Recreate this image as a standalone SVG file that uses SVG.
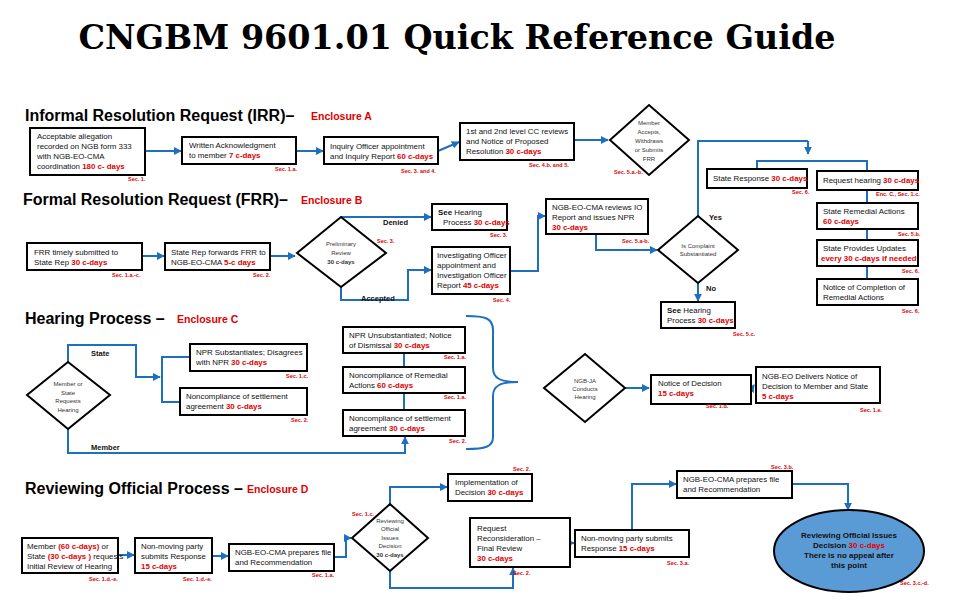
<svg xmlns="http://www.w3.org/2000/svg" width="960" height="610" viewBox="0 0 960 610">
<defs>
<marker id="ar" viewBox="0 0 10 10" refX="9" refY="5" markerWidth="4" markerHeight="4" orient="auto"><path d="M0,0 L10,5 L0,10 z" fill="#1f6fbf"/></marker>
<style>
.b{fill:#fff;stroke:#000;stroke-width:2}
.d{fill:#fff;stroke:#000;stroke-width:2}
.t{font-family:"Liberation Sans",Arial,sans-serif;font-size:7.9px;fill:#111}
.s{font-family:"Liberation Sans",Arial,sans-serif;font-size:5.5px;font-weight:bold;fill:#e00000}
.r{fill:#e00000;font-weight:bold}
.h{font-family:"Liberation Sans",Arial,sans-serif;font-size:16px;font-weight:bold;fill:#000}
.e{font-family:"Liberation Sans",Arial,sans-serif;font-size:10.5px;font-weight:bold;fill:#e00000}
.l{font-family:"Liberation Sans",Arial,sans-serif;font-size:7.5px;font-weight:bold;fill:#111}
.dt{font-family:"Liberation Sans",Arial,sans-serif;font-size:6px;fill:#333;text-anchor:middle}
.c{fill:none;stroke:#1f6fbf;stroke-width:2}
.ca{fill:none;stroke:#1f6fbf;stroke-width:2;marker-end:url(#ar)}
</style>
</defs>
<rect width="960" height="610" fill="#fff"/>
<text x="457" y="49" text-anchor="middle" font-family="DejaVu Serif,serif" font-weight="bold" font-size="33" textLength="757" lengthAdjust="spacingAndGlyphs">CNGBM 9601.01 Quick Reference Guide</text>

<text class="h" x="25" y="121">Informal Resolution Request (IRR)–</text>
<text class="e" x="311" y="120">Enclosure A</text>
<text class="h" x="23" y="205">Formal Resolution Request (FRR)–</text>
<text class="e" x="301" y="204">Enclosure B</text>
<text class="h" x="25" y="324">Hearing Process –</text>
<text class="e" x="177" y="323">Enclosure C</text>
<text class="h" x="25" y="494">Reviewing Official Process –</text>
<text class="e" x="247" y="493">Enclosure D</text>

<g id="connectors">
<path class="ca" d="M145,151 H181"/>
<path class="ca" d="M296,151 H323"/>
<path class="ca" d="M438,151 L459,142"/>
<path class="ca" d="M574,140 H608"/>
<path class="c" d="M698,217 V141 H808"/>
<path class="ca" d="M808,141 V154"/>
<path class="c" d="M757,170 V161 H867 V171"/>
<path class="c" d="M867,189 V203 M867,229 V240 M867,266 V279"/>
<path class="ca" d="M142,256 H164"/>
<path class="ca" d="M270,256 H295"/>
<path class="ca" d="M341,217 H431"/>
<path class="ca" d="M341,287 V300 H408 V270 H431"/>
<path class="ca" d="M510,271 H538 V216 H545"/>
<path class="ca" d="M596,234 V250 H657"/>
<path class="ca" d="M698,283 V301"/>
<path class="ca" d="M68,362 V345 H136 V377 H160"/>
<path class="c" d="M190,357 H162 V402 H180"/>
<path class="ca" d="M68,429 V453 H405 V437"/>
<path class="c" d="M404,353 V367 M404,393 V410"/>
<path class="c" d="M466,316 C485,316 493,318 493,330 V368 C493,378 500,382 518,382 C500,382 493,386 493,396 V437 C493,447 485,449 466,449"/>
<path class="ca" d="M625,388 H649"/>
<path class="ca" d="M751,390 L754,385"/>
<path class="ca" d="M118,555 H134"/>
<path class="ca" d="M212,556 H228"/>
<path class="ca" d="M334,557 H346 V538 H351"/>
<path class="ca" d="M390,504 V487 H447"/>
<path class="ca" d="M390,571 V588 H513 V568"/>
<path class="ca" d="M570,543 H574"/>
<path class="ca" d="M632,530 V484 H676"/>
<path class="ca" d="M792,484 H848 V510"/>
</g>

<g id="a1"><rect class="b" x="30" y="128" width="115" height="47"/>
<text class="t" x="37" y="139">Acceptable allegation</text><text class="t" x="37" y="149">recorded on NGB form 333</text><text class="t" x="37" y="159">with NGB-EO-CMA</text><text class="t" x="37" y="169">coordination <tspan class="r">180 c- days</tspan></text>
<text class="s" x="128" y="181">Sec. 1.</text></g>
<g id="a2"><rect class="b" x="182" y="137" width="114" height="27"/>
<text class="t" x="189" y="148">Written Acknowledgment</text><text class="t" x="189" y="158">to member <tspan class="r">7 c-days</tspan></text>
<text class="s" x="275" y="171">Sec. 1.a.</text></g>
<g id="a3"><rect class="b" x="324" y="137" width="114" height="27"/>
<text class="t" x="330" y="149">Inquiry Officer appointment</text><text class="t" x="330" y="159">and Inquiry Report <tspan class="r">60 c-days</tspan></text>
<text class="s" x="401" y="173">Sec. 3. and 4.</text></g>
<g id="a4"><rect class="b" x="460" y="123" width="114" height="37"/>
<text class="t" x="466" y="134">1st and 2nd level CC reviews</text><text class="t" x="466" y="144">and Notice of Proposed</text><text class="t" x="466" y="154">Resolution <tspan class="r">30 c-days</tspan></text>
<text class="s" x="529" y="167">Sec. 4.b. and 5.</text></g>
<g id="a5"><polygon class="d" points="610,140 649,105 689,140 649,175"/>
<text class="dt" x="649" y="125">Member</text><text class="dt" x="649" y="134">Accepts,</text><text class="dt" x="649" y="143">Withdraws</text><text class="dt" x="649" y="152">or Submits</text><text class="dt" x="649" y="161">FRR</text>
<text class="s" x="614" y="174">Sec. 5.a.-b.</text></g>

<g id="r1"><rect class="b" x="707" y="169" width="100" height="19"/>
<text class="t" x="713" y="181">State Response <tspan class="r">30 c-days</tspan></text>
<text class="s" x="792" y="194">Sec. 6.</text></g>
<g id="r2"><rect class="b" x="817" y="171" width="101" height="19"/>
<text class="t" x="823" y="183">Request hearing <tspan class="r">30 c-days</tspan></text>
<text class="s" x="876" y="196">Enc. C., Sec. 1.c.</text></g>
<g id="r3"><rect class="b" x="817" y="203" width="101" height="26"/>
<text class="t" x="823" y="214">State Remedial Actions</text><text class="t r" x="823" y="224">60 c-days</text>
<text class="s" x="898" y="236">Sec. 5.b.</text></g>
<g id="r4"><rect class="b" x="817" y="240" width="101" height="26"/>
<text class="t" x="823" y="251">State Provides Updates</text><text class="t r" x="821" y="261" font-size="7.6">every 30 c-days if needed</text>
<text class="s" x="902" y="273">Sec. 6.</text></g>
<g id="r5"><rect class="b" x="817" y="279" width="101" height="26"/>
<text class="t" x="823" y="290">Notice of Completion of</text><text class="t" x="823" y="300">Remedial Actions</text>
<text class="s" x="902" y="313">Sec. 6.</text></g>

<g id="b1"><rect class="b" x="27" y="243" width="115" height="27"/>
<text class="t" x="34" y="255">FRR timely submitted to</text><text class="t" x="34" y="265">State Rep <tspan class="r">30 c-days</tspan></text>
<text class="s" x="112" y="277">Sec. 1.a.-c.</text></g>
<g id="b2"><rect class="b" x="165" y="243" width="105" height="27"/>
<text class="t" x="171" y="255">State Rep forwards FRR to</text><text class="t" x="171" y="265">NGB-EO-CMA <tspan class="r">5-c days</tspan></text>
<text class="s" x="253" y="277">Sec. 2.</text></g>
<g id="b3"><polygon class="d" points="297,253 341,217 386,253 341,287"/>
<text class="dt" x="341" y="246">Preliminary</text><text class="dt" x="341" y="255">Review</text><text class="dt" x="341" y="264" font-weight="bold" fill="#e00000">30 c-days</text>
<text class="s" x="377" y="243">Sec. 3.</text>
<text class="l" x="383" y="225">Denied</text><text class="l" x="361" y="301">Accepted</text></g>
<g id="b4"><rect class="b" x="432" y="204" width="75" height="26"/>
<text class="t" x="438" y="215"><tspan font-weight="bold">See</tspan> Hearing</text><text class="t" x="443" y="225">Process <tspan class="r">30 c-days</tspan></text>
<text class="s" x="490" y="237">Sec. 3.</text></g>
<g id="b5"><rect class="b" x="432" y="247" width="78" height="47"/>
<text class="t" x="437" y="258">Investigating Officer</text><text class="t" x="437" y="268">appointment and</text><text class="t" x="437" y="278">Investigation Officer</text><text class="t" x="437" y="288">Report <tspan class="r">45 c-days</tspan></text>
<text class="s" x="493" y="302">Sec. 4.</text></g>
<g id="b6"><rect class="b" x="546" y="199" width="102" height="35"/>
<text class="t" x="552" y="210">NGB-EO-CMA reviews IO</text><text class="t" x="552" y="220">Report and issues NPR</text><text class="t r" x="552" y="230">30 c-days</text>
<text class="s" x="622" y="243">Sec. 5.a-b.</text></g>
<g id="b7"><polygon class="d" points="658,250 698,216 738,250 698,283"/>
<text class="dt" x="698" y="248" font-size="5">Is Complaint</text><text class="dt" x="698" y="256" font-size="5">Substantiated</text>
<text class="l" x="709" y="220">Yes</text><text class="l" x="706" y="291">No</text></g>
<g id="b8"><rect class="b" x="661" y="302" width="74" height="26"/>
<text class="t" x="667" y="313"><tspan font-weight="bold">See</tspan> Hearing</text><text class="t" x="667" y="323">Process <tspan class="r">30 c-days</tspan></text>
<text class="s" x="733" y="336">Sec. 5.c.</text></g>

<g id="c1"><polygon class="d" points="27,395 68,362 110,395 68,429"/>
<text class="dt" x="68" y="386">Member or</text><text class="dt" x="68" y="395">State</text><text class="dt" x="68" y="403">Requests</text><text class="dt" x="68" y="412">Hearing</text>
<text class="l" x="91" y="356">State</text><text class="l" x="91" y="450">Member</text></g>
<g id="c2"><rect class="b" x="190" y="344" width="117" height="27"/>
<text class="t" x="196" y="355">NPR Substantiates; Disagrees</text><text class="t" x="196" y="365">with NPR <tspan class="r">30 c-days</tspan></text>
<text class="s" x="286" y="378">Sec. 1.c.</text></g>
<g id="c3"><rect class="b" x="180" y="388" width="127" height="27"/>
<text class="t" x="186" y="399">Noncompliance of settlement</text><text class="t" x="186" y="409">agreement <tspan class="r">30 c-days</tspan></text>
<text class="s" x="291" y="422">Sec. 2.</text></g>
<g id="c4"><rect class="b" x="343" y="327" width="122" height="26"/>
<text class="t" x="349" y="338">NPR Unsubstantiated; Notice</text><text class="t" x="349" y="348">of Dismissal <tspan class="r">30 c-days</tspan></text>
<text class="s" x="444" y="359">Sec. 1.a.</text></g>
<g id="c5"><rect class="b" x="343" y="367" width="122" height="26"/>
<text class="t" x="349" y="378">Noncompliance of Remedial</text><text class="t" x="349" y="388">Actions <tspan class="r">60 c-days</tspan></text>
<text class="s" x="444" y="399">Sec. 1.a.</text></g>
<g id="c6"><rect class="b" x="343" y="410" width="122" height="26"/>
<text class="t" x="349" y="421">Noncompliance of settlement</text><text class="t" x="349" y="431">agreement <tspan class="r">30 c-days</tspan></text>
<text class="s" x="449" y="443">Sec. 2.</text></g>
<g id="c7"><polygon class="d" points="544,388 585,354 625,388 585,422"/>
<text class="dt" x="585" y="383" font-size="5">NGB-JA</text><text class="dt" x="585" y="391" font-size="5">Conducts</text><text class="dt" x="585" y="399" font-size="5">Hearing</text></g>
<g id="c8"><rect class="b" x="651" y="375" width="100" height="29"/>
<text class="t" x="658" y="386">Notice of Decision</text><text class="t r" x="658" y="396">15 c-days</text>
<text class="s" x="706" y="408">Sec. 1.d.</text></g>
<g id="c9"><rect class="b" x="756" y="367" width="124" height="36"/>
<text class="t" x="762" y="379">NGB-EO Delivers Notice of</text><text class="t" x="762" y="389">Decision to Member and State</text><text class="t r" x="762" y="399">5 c-days</text>
<text class="s" x="860" y="412">Sec. 1.e.</text></g>

<g id="d1"><rect class="b" x="22" y="538" width="96" height="35"/>
<text class="t" x="27" y="549">Member <tspan class="r">(60 c-days)</tspan> or</text><text class="t" x="27" y="559" font-size="7">State <tspan class="r">(30 c-days )</tspan> requests</text><text class="t" x="27" y="569">Initial Review of Hearing</text>
<text class="s" x="89" y="581">Sec. 1.d.-e.</text></g>
<g id="d2"><rect class="b" x="135" y="538" width="77" height="35"/>
<text class="t" x="141" y="549">Non-moving party</text><text class="t" x="141" y="559">submits Response</text><text class="t r" x="141" y="569">15 c-days</text>
<text class="s" x="183" y="581">Sec. 1.d.-e.</text></g>
<g id="d3"><rect class="b" x="229" y="544" width="105" height="27"/>
<text class="t" x="235" y="555">NGB-EO-CMA prepares file</text><text class="t" x="235" y="565">and Recommendation</text>
<text class="s" x="312" y="577">Sec. 1.a.</text></g>
<g id="d4"><polygon class="d" points="352,538 390,504 428,538 390,571"/>
<text class="dt" x="390" y="523">Reviewing</text><text class="dt" x="390" y="531">Official</text><text class="dt" x="390" y="540">Issues</text><text class="dt" x="390" y="548">Decision</text><text class="dt" x="390" y="557" font-weight="bold" fill="#e00000">30 c-days</text>
<text class="s" x="352" y="516">Sec. 1.c.</text></g>
<g id="d5"><rect class="b" x="448" y="474" width="84" height="27"/>
<text class="t" x="455" y="485">Implementation of</text><text class="t" x="455" y="495">Decision <tspan class="r">30 c-days</tspan></text>
<text class="s" x="513" y="471">Sec. 2.</text></g>
<g id="d6"><rect class="b" x="470" y="518" width="100" height="49"/>
<text class="t" x="477" y="531">Request</text><text class="t" x="477" y="541">Reconsideration –</text><text class="t" x="477" y="551">Final Review</text><text class="t r" x="477" y="561">30 c-days</text>
<text class="s" x="513" y="575">Sec. 2.</text></g>
<g id="d7"><rect class="b" x="575" y="530" width="114" height="27"/>
<text class="t" x="581" y="541">Non-moving party submits</text><text class="t" x="581" y="551">Response <tspan class="r">15 c-days</tspan></text>
<text class="s" x="667" y="565">Sec. 3.a.</text></g>
<g id="d8"><rect class="b" x="677" y="471" width="115" height="27"/>
<text class="t" x="683" y="482">NGB-EO-CMA prepares file</text><text class="t" x="683" y="492">and Recommendation</text>
<text class="s" x="771" y="469">Sec. 3.b.</text></g>
<g id="d9"><ellipse cx="849" cy="551" rx="75" ry="41" fill="#5b9bd5" stroke="#000" stroke-width="2"/>
<g font-family="Liberation Sans,Arial,sans-serif" font-size="8" font-weight="bold" text-anchor="middle" fill="#111">
<text x="849" y="538">Reviewing Official Issues</text><text x="849" y="548">Decision <tspan fill="#e00000">30 c-days</tspan></text><text x="849" y="558">There is no appeal after</text><text x="849" y="568">this point</text></g>
<text class="s" x="900" y="585">Sec. 3.c.-d.</text></g>
</svg>
